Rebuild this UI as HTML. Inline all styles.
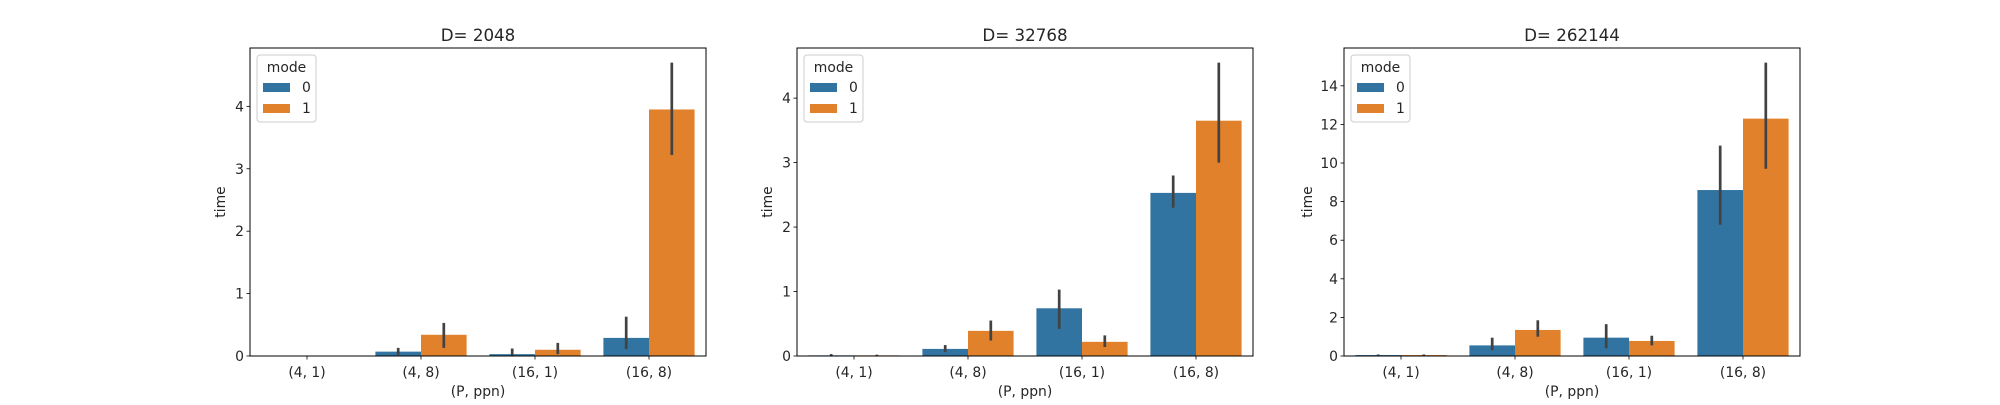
<!DOCTYPE html>
<html><head><meta charset="utf-8"><style>
html,body{margin:0;padding:0;background:#fff;}
svg text{font-family:"DejaVu Sans","Liberation Sans",sans-serif;fill:#262626;}
</style></head><body>
<svg id="fig" width="2000" height="400" xmlns="http://www.w3.org/2000/svg"></svg>
<script>
const categories = ["(4, 1)", "(4, 8)", "(16, 1)", "(16, 8)"];
const titles = ["D= 2048", "D= 32768", "D= 262144"];
// per subplot: mode0 / mode1 means, and CI low/high
const mode0_d2048 = [0.0, 0.07, 0.03, 0.29];
const mode1_d2048 = [0.0, 0.34, 0.10, 3.95];
const mode0Lo_d2048 = [0.0, 0.02, 0.0, 0.11];
const mode0Hi_d2048 = [0.0, 0.13, 0.12, 0.63];
const mode1Lo_d2048 = [0.0, 0.13, 0.03, 3.22];
const mode1Hi_d2048 = [0.0, 0.53, 0.21, 4.70];
const mode0_d32768 = [0.01, 0.11, 0.74, 2.53];
const mode1_d32768 = [0.01, 0.39, 0.22, 3.65];
const mode0Lo_d32768 = [0.0, 0.06, 0.42, 2.30];
const mode0Hi_d32768 = [0.03, 0.17, 1.03, 2.80];
const mode1Lo_d32768 = [0.0, 0.24, 0.14, 3.00];
const mode1Hi_d32768 = [0.02, 0.55, 0.32, 4.55];
const mode0_d262144 = [0.05, 0.55, 0.95, 8.6];
const mode1_d262144 = [0.05, 1.35, 0.78, 12.3];
const mode0Lo_d262144 = [0.0, 0.3, 0.4, 6.8];
const mode0Hi_d262144 = [0.08, 0.95, 1.65, 10.9];
const mode1Lo_d262144 = [0.0, 1.0, 0.55, 9.7];
const mode1Hi_d262144 = [0.08, 1.85, 1.05, 15.2];
const yTicks_d2048 = [0, 1, 2, 3, 4];
const yTicks_d32768 = [0, 1, 2, 3, 4];
const yTicks_d262144 = [0, 2, 4, 6, 8, 10, 12, 14];

const panels = [
  {m0:mode0_d2048,m1:mode1_d2048,l0:mode0Lo_d2048,h0:mode0Hi_d2048,l1:mode1Lo_d2048,h1:mode1Hi_d2048,ticks:yTicks_d2048},
  {m0:mode0_d32768,m1:mode1_d32768,l0:mode0Lo_d32768,h0:mode0Hi_d32768,l1:mode1Lo_d32768,h1:mode1Hi_d32768,ticks:yTicks_d32768},
  {m0:mode0_d262144,m1:mode1_d262144,l0:mode0Lo_d262144,h0:mode0Hi_d262144,l1:mode1Lo_d262144,h1:mode1Hi_d262144,ticks:yTicks_d262144}
];
const NS="http://www.w3.org/2000/svg";
const svg=document.getElementById('fig');
function mk(tag,attrs,parent){const e=document.createElementNS(NS,tag);for(const k in attrs)e.setAttribute(k,attrs[k]);(parent||svg).appendChild(e);return e;}
const axLeft=[250,797,1344], axW=456, axTop=48, axBot=356;
const colors=["#3274a1","#e1812c"];
panels.forEach((p,pi)=>{
  const x0=axLeft[pi];
  const g=mk('g',{});
  
  
  const maxV=Math.max(...p.h0,...p.h1,...p.m0,...p.m1)*1.05;
  const y=v=>axBot-(v/maxV)*(axBot-axTop);
  const x=c=>x0+(c+0.5)/4*axW;
  const unit=axW/4;
  // bars
  [p.m0,p.m1].forEach((arr,hi)=>{
    const lo=hi?p.l1:p.l0, hiA=hi?p.h1:p.h0;
    arr.forEach((v,ci)=>{
      const bx=x(ci)-0.4*unit+hi*0.4*unit;
      const r=mk('rect',{x:bx,y:y(v),width:0.4*unit,height:axBot-y(v),fill:colors[hi]},g);
      
      
    });
    arr.forEach((v,ci)=>{
      const cx=x(ci)-0.2*unit+hi*0.4*unit;
      const l=mk('line',{x1:cx,x2:cx,y1:y(lo[ci]),y2:y(hiA[ci]),stroke:'#424242','stroke-width':2.7},g);
      
      
    });
  });
  // axes frame
  const fr=mk('rect',{x:x0,y:axTop,width:axW,height:axBot-axTop,fill:'none',stroke:'#000','stroke-width':1},g);
  
  
  // y ticks
  p.ticks.forEach(t=>{
    if(t>maxV)return;
    mk('line',{x1:x0-3.5,x2:x0,y1:y(t),y2:y(t),stroke:'#000','stroke-width':0.8},g);
    const tx=mk('text',{x:x0-6,y:y(t)+5,'text-anchor':'end','font-size':13.9},g);
    tx.textContent=t;
    
    
  });
  categories.forEach((c,ci)=>{
    mk('line',{x1:x(ci),x2:x(ci),y1:axBot,y2:axBot+3.5,stroke:'#000','stroke-width':0.8},g);
    const tx=mk('text',{x:x(ci),y:axBot+21,'text-anchor':'middle','font-size':13.9},g);
    tx.textContent=c;
    
    
  });
  const xl=mk('text',{x:x0+axW/2,y:396,'text-anchor':'middle','font-size':13.9},g);
  xl.textContent="(P, ppn)";
  
  
  const yl=mk('text',{x:0,y:0,'text-anchor':'middle','font-size':13.9,transform:`translate(${pi==2?x0-32:x0-25},${(axTop+axBot)/2}) rotate(-90)`},g);
  yl.textContent="time";
  
  
  const tt=mk('text',{x:x0+axW/2,y:41,'text-anchor':'middle','font-size':16.7},g);
  tt.textContent=titles[pi];
  
  
  // legend
  const lg=mk('g',{},g);
  
  
  mk('rect',{x:x0+7,y:55,width:59,height:67,rx:3,fill:'#fff','fill-opacity':0.8,stroke:'#ccc','stroke-width':1},lg);
  const lt=mk('text',{x:x0+36.5,y:72,'text-anchor':'middle','font-size':13.9},lg);
  lt.textContent="mode";
  ["0","1"].forEach((s,i)=>{
    const e=mk('g',{},lg);
    
    
    mk('rect',{x:x0+13,y:83+i*21,width:27,height:9,fill:colors[i]},e);
    const t=mk('text',{x:x0+52,y:92+i*21,'text-anchor':'start','font-size':13.9},e);
    t.textContent=s;
  });
});
</script>
</body></html>
